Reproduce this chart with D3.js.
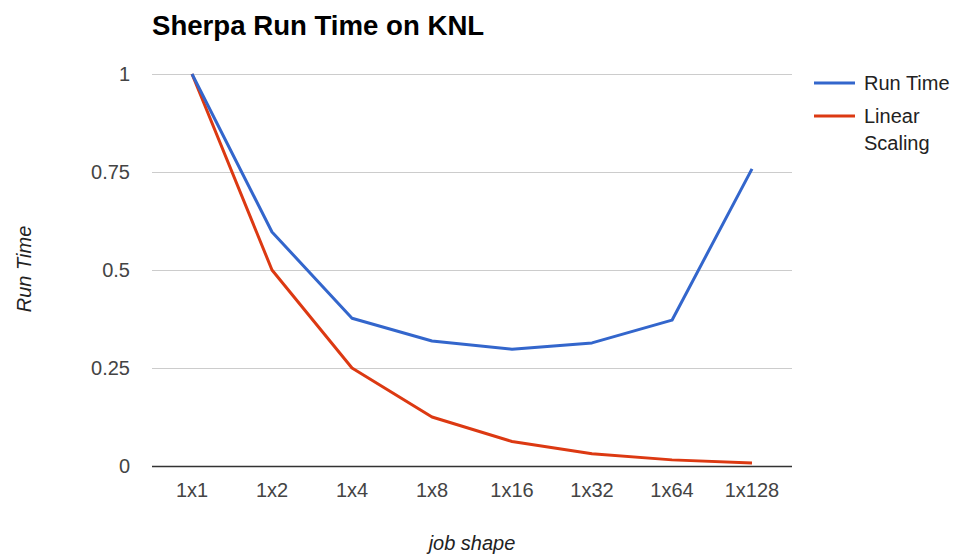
<html>
<head>
  <script src="https://d3js.org/d3.v7.min.js"></script>
  <style>
    body { margin: 0; background: #fff; }
    text { font-family: Arial, "Liberation Sans", sans-serif; }
  </style>
</head>
<body>
  <div id="chart"></div>
  <script>
    // data
    const shapes = ["1x1", "1x2", "1x4", "1x8", "1x16", "1x32", "1x64", "1x128"];
    const runTime = [1, 0.597, 0.377, 0.319, 0.298, 0.314, 0.372, 0.758];
    const linearScaling = [1, 0.5, 0.25, 0.125, 0.0625, 0.03125, 0.015625, 0.0078125];
    const yTicks = [0, 0.25, 0.5, 0.75, 1];
    const seriesNames = ["Run Time", "Linear\nScaling"];
    const colors = ["#3366cc", "#dc3912"];

    const width = 956, height = 556;
    const margin = { top: 74, right: 164, bottom: 90, left: 152 };
    const font = "Arial, 'Liberation Sans', sans-serif";

    const svg = d3.create("svg")
      .attr("width", width)
      .attr("height", height);

    const x = d3.scaleBand()
      .domain(shapes)
      .range([margin.left, width - margin.right]);

    const y = d3.scaleLinear()
      .domain([0, 1])
      .range([height - margin.bottom, margin.top]);

    // title
    svg.append("text")
      .attr("x", 152)
      .attr("y", 35)
      .attr("font-size", 27.6)
      .attr("font-weight", "bold")
      .attr("fill", "#000")
      .text("Sherpa Run Time on KNL");

    // gridlines + y labels
    const yAxis = svg.append("g")
      .attr("transform", `translate(${margin.left},0)`)
      .call(d3.axisLeft(y).tickValues(yTicks).tickFormat(d3.format("")).tickSize(-(width - margin.left - margin.right)).tickPadding(22));
    yAxis.select(".domain").remove();
    yAxis.selectAll(".tick line").attr("stroke", d => d === 0 ? "#333" : "#cccccc").attr("stroke-width", d => d === 0 ? 1.5 : 1);
    yAxis.selectAll(".tick text").attr("font-size", 20).attr("fill", "#444").attr("font-family", font);

    // x labels
    const xAxis = svg.append("g")
      .attr("transform", `translate(0,${height - margin.bottom})`)
      .call(d3.axisBottom(x).tickSize(0).tickPadding(17));
    xAxis.select(".domain").remove();
    xAxis.selectAll(".tick text").attr("font-size", 20).attr("fill", "#444").attr("font-family", font);

    // axis titles
    svg.append("text")
      .attr("x", 472)
      .attr("y", 550)
      .attr("text-anchor", "middle")
      .attr("font-size", 20)
      .attr("font-style", "italic")
      .attr("fill", "#222")
      .text("job shape");

    svg.append("text")
      .attr("transform", "translate(31,269) rotate(-90)")
      .attr("text-anchor", "middle")
      .attr("font-size", 20)
      .attr("font-style", "italic")
      .attr("fill", "#222")
      .text("Run Time");

    // lines
    const line = d3.line()
      .x((d, i) => x(shapes[i]) + x.bandwidth() / 2)
      .y(d => y(d));

    [linearScaling, runTime].forEach((s, k) => {
      svg.append("path")
        .datum(s)
        .attr("fill", "none")
        .attr("stroke", k === 0 ? colors[1] : colors[0])
        .attr("stroke-width", 3)
        .attr("stroke-linejoin", "round")
        .attr("d", line);
    });

    // legend
    const legend = svg.append("g");
    seriesNames.forEach((name, i) => {
      const ly = 83 + i * 33;
      legend.append("line")
        .attr("x1", 814).attr("x2", 855)
        .attr("y1", ly).attr("y2", ly)
        .attr("stroke", colors[i])
        .attr("stroke-width", 3);
      const t = legend.append("text")
        .attr("x", 864)
        .attr("y", ly + 7)
        .attr("font-size", 20)
        .attr("fill", "#222");
      name.split("\n").forEach((part, j) => {
        t.append("tspan").attr("x", 864).attr("dy", j === 0 ? 0 : 27).text(part);
      });
    });

    document.getElementById("chart").appendChild(svg.node());
  </script>
</body>
</html>
